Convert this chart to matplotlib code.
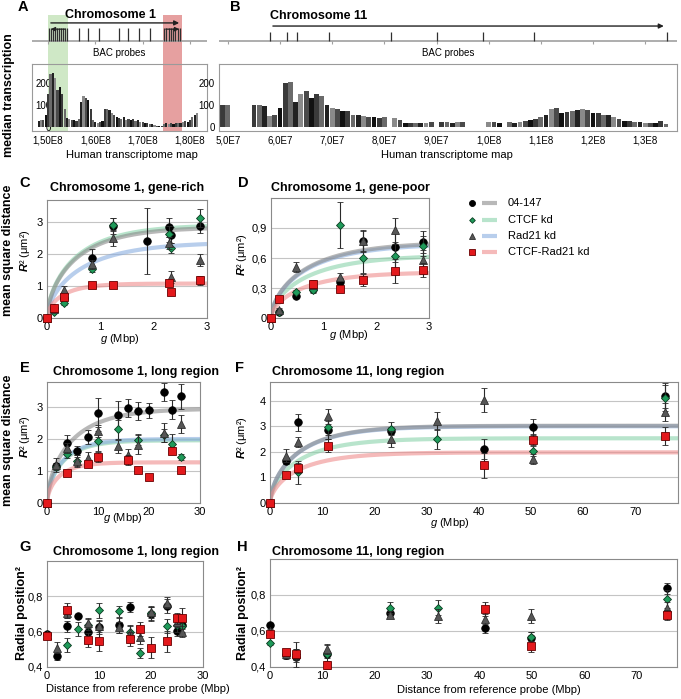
import numpy as np
import matplotlib.pyplot as plt
from matplotlib.ticker import FuncFormatter

plt.rcParams['font.family'] = ['Liberation Sans', 'DejaVu Sans']
plt.rcParams['mathtext.fontset'] = 'custom'
plt.rcParams['mathtext.rm'] = 'Liberation Sans'
plt.rcParams['mathtext.it'] = 'Liberation Sans:italic'
plt.rcParams['mathtext.bf'] = 'Liberation Sans:bold'
plt.rcParams['mathtext.bfit'] = 'Liberation Sans:bold:italic'

# ---------------- data ----------------
# transcriptome maps (median transcription, bins in Mbp)
chr1_start, chr1_step = 146.5, 0.5
chr1_tx = [0, 0, 0, 25, 30, 30, 55, 150, 240, 245, 220, 165, 180, 150, 80, 40, 35, 30,
           30, 25, 35, 110, 140, 130, 120, 80, 30, 20, 15, 20, 25, 80, 80, 75, 60, 55,
           45, 40, 35, 45, 30, 35, 30, 35, 25, 30, 20, 20, 15, 15, 10, 10, 8, 5, 5, 5,
           12, 15, 12, 15, 12, 15, 15, 15, 20, 25, 20, 30, 45, 55, 60, 0, 0, 0]
chr11_start, chr11_step = 48, 1.0
chr11_tx = [0, 100, 100, 0, 0, 0, 0, 100, 100, 95, 50, 55, 85, 200, 205, 110, 150, 160,
            130, 150, 140, 100, 85, 80, 70, 70, 55, 55, 50, 45, 45, 40, 45, 0, 40, 30,
            18, 15, 15, 18, 18, 20, 0, 20, 20, 18, 20, 20, 0, 0, 0, 0, 22, 20, 15, 0,
            20, 15, 20, 25, 30, 35, 45, 55, 80, 85, 60, 65, 70, 75, 80, 75, 60, 60, 55,
            55, 45, 35, 25, 25, 20, 20, 15, 15, 15, 25, 10, 0]

# BAC probe positions (Mbp)
chr1_probes = [150.2, 150.6, 151.0, 151.4, 151.8, 152.3, 152.8, 153.2, 153.6, 154.0,
               156.6, 158.5, 160.8, 165.0, 167.0, 169.3, 171.6,
               174.5, 175.0, 175.5, 176.0, 176.4, 176.9, 177.4, 177.9]
chr11_probes = [58.1, 61.4, 63.3, 69.3, 81.2, 90.0, 99.0, 108.6, 134.1]
gene_rich = (150.0, 154.2)
gene_poor = (174.3, 178.3)

conditions = ['04-147', 'CTCF kd', 'Rad21 kd', 'CTCF-Rad21 kd']

# C: chromosome 1 gene-rich, R^2 vs g
C_x = [[0, 0.13, 0.31, 0.84, 1.23, 1.87, 2.29, 2.32, 2.86],
       [0, 0.13, 0.31, 0.84, 1.23, 2.29, 2.32, 2.86],
       [0, 0.13, 0.31, 0.84, 1.23, 2.29, 2.32, 2.86],
       [0, 0.13, 0.31, 0.84, 1.23, 2.29, 2.32, 2.86]]
C_y = [[0, 0.3, 0.62, 1.87, 2.88, 2.42, 2.85, 2.6, 2.9],
       [0, 0.2, 0.48, 1.53, 2.93, 2.63, 2.2, 3.14],
       [0, 0.28, 0.88, 1.68, 2.52, 2.35, 1.28, 1.82],
       [0, 0.32, 0.65, 1.02, 1.03, 1.1, 0.8, 1.18]]
C_err = [[0, 0.05, 0.08, 0.3, 0.25, 1.03, 0.3, 0.25, 0.25],
         [0, 0.05, 0.08, 0.1, 0.2, 0.25, 0.15, 0.28],
         [0, 0.05, 0.12, 0.15, 0.25, 0.2, 0.18, 0.2],
         [0, 0.05, 0.08, 0.05, 0.05, 0.1, 0.05, 0.15]]
C_plateau = [2.85, 2.92, 2.38, 1.08]
C_tau = [0.8, 0.8, 0.95, 0.42]

# D: chromosome 1 gene-poor
D_x = [[0, 0.16, 0.47, 0.80, 1.31, 1.75, 2.35, 2.88],
       [0, 0.16, 0.47, 0.80, 1.31, 1.75, 2.35, 2.88],
       [0, 0.16, 0.47, 0.80, 1.31, 1.75, 2.35, 2.88],
       [0, 0.16, 0.80, 1.31, 1.75, 2.35, 2.88]]
D_y = [[0, 0.065, 0.22, 0.29, 0.36, 0.77, 0.71, 0.755],
       [0, 0.06, 0.26, 0.28, 0.93, 0.60, 0.62, 0.72],
       [0, 0.08, 0.51, 0.33, 0.41, 0.77, 0.88, 0.58],
       [0, 0.19, 0.34, 0.29, 0.38, 0.47, 0.48]]
D_err = [[0, 0.02, 0.02, 0.03, 0.04, 0.11, 0.15, 0.11],
         [0, 0.02, 0.02, 0.03, 0.23, 0.15, 0.12, 0.1],
         [0, 0.02, 0.05, 0.03, 0.04, 0.1, 0.12, 0.1],
         [0, 0.02, 0.04, 0.03, 0.06, 0.12, 0.07]]
D_plateau = [0.76, 0.63, 0.745, 0.46]
D_tau = [1.0, 1.0, 1.0, 0.9]

# E: chromosome 1 long region
E_x = [[0, 1.76, 3.85, 5.95, 8.1, 10.06, 14.0, 15.95, 17.9, 20.06, 23.0, 24.5, 26.3],
       [0, 1.76, 3.85, 5.95, 10.06, 14.0, 17.9, 23.0, 24.5, 26.3],
       [0, 1.76, 3.85, 5.95, 8.1, 10.06, 14.0, 15.95, 17.9, 23.0, 26.3],
       [0, 3.85, 8.1, 10.06, 15.95, 17.9, 20.06, 24.5, 26.3]]
E_y = [[0, 1.15, 1.89, 1.64, 2.06, 2.82, 2.74, 2.97, 2.87, 2.89, 3.48, 2.92, 3.33],
       [0, 1.12, 1.52, 1.31, 1.94, 2.3, 1.98, 2.12, 1.84, 1.43],
       [0, 1.2, 1.72, 1.3, 1.4, 2.25, 1.77, 1.5, 1.82, 2.2, 2.47],
       [0, 0.93, 1.21, 1.44, 1.35, 1.04, 0.8, 1.64, 1.03]]
E_err = [[0, 0.1, 0.22, 0.15, 0.22, 0.45, 0.45, 0.27, 0.28, 0.23, 0.28, 0.3, 0.4],
         [0, 0.1, 0.12, 0.2, 0.3, 0.3, 0.18, 0.2, 0.3, 0.1],
         [0, 0.22, 0.15, 0.15, 0.2, 0.2, 0.2, 0.2, 0.3, 0.3, 0.28],
         [0, 0.08, 0.1, 0.15, 0.15, 0.1, 0.05, 0.12, 0.1]]
E_plateau = [2.95, 1.96, 2.0, 1.27]
E_tau = [7.0, 4.5, 4.5, 3.5]

# F: chromosome 11 long region
F_x = [[0, 3.07, 5.44, 11.2, 23.2, 41, 50.5, 75.8],
       [0, 5.44, 11.2, 23.2, 32, 50.5, 75.8],
       [0, 3.07, 5.44, 11.2, 23.2, 32, 41, 50.5, 75.8],
       [0, 3.07, 5.44, 11.2, 41, 50.5, 75.8]]
F_y = [[0, 1.63, 3.15, 2.87, 2.83, 2.11, 2.97, 4.2],
       [0, 1.2, 2.97, 2.9, 2.51, 2.02, 4.1],
       [0, 1.85, 2.38, 3.39, 2.5, 3.19, 4.04, 1.72, 3.56],
       [0, 1.11, 1.36, 2.24, 1.47, 2.48, 2.62]]
F_err = [[0, 0.1, 0.32, 0.35, 0.15, 0.38, 0.32, 0.5],
         [0, 0.45, 0.3, 0.25, 0.4, 0.2, 0.5],
         [0, 0.25, 0.2, 0.3, 0.3, 0.35, 0.47, 0.18, 0.35],
         [0, 0.08, 0.2, 0.25, 0.5, 0.2, 0.35]]
F_plateau = [3.02, 2.53, 3.0, 1.98]
F_tau = [8.0, 8.0, 8.0, 8.0]

# G: chromosome 1 radial position
G_x = [[0, 1.9, 3.9, 5.9, 7.9, 10, 13.9, 15.9, 20, 23, 25, 26],
       [0, 3.9, 5.9, 7.9, 10, 13.9, 15.9, 17.9, 20, 23, 25, 26],
       [0, 1.9, 3.9, 7.9, 10, 13.9, 15.9, 17.9, 20, 23, 25, 26],
       [0, 3.9, 7.9, 10, 15.9, 17.9, 20, 23, 25, 26]]
G_y = [[0.585, 0.46, 0.63, 0.69, 0.6, 0.625, 0.635, 0.74, 0.70, 0.745, 0.605, 0.64],
       [0.58, 0.525, 0.615, 0.64, 0.72, 0.715, 0.6, 0.48, 0.705, 0.63, 0.64, 0.63],
       [0.58, 0.51, 0.705, 0.65, 0.63, 0.625, 0.59, 0.57, 0.71, 0.765, 0.655, 0.6],
       [0.575, 0.72, 0.555, 0.55, 0.56, 0.615, 0.51, 0.545, 0.675, 0.675]]
G_err = [[0.01, 0.02, 0.03, 0.01, 0.03, 0.04, 0.04, 0.03, 0.04, 0.04, 0.03, 0.04],
         [0.01, 0.04, 0.04, 0.03, 0.04, 0.03, 0.04, 0.03, 0.04, 0.04, 0.04, 0.04],
         [0.01, 0.03, 0.03, 0.03, 0.03, 0.03, 0.04, 0.04, 0.03, 0.03, 0.03, 0.03],
         [0.01, 0.04, 0.04, 0.06, 0.04, 0.04, 0.06, 0.06, 0.03, 0.06]]

# H: chromosome 11 radial position
H_x = [[0, 3.06, 4.97, 10.9, 23, 41, 49.9, 75.8],
       [0, 3.06, 4.97, 10.9, 23, 32, 49.9, 75.8],
       [0, 3.06, 4.97, 10.9, 23, 32, 41, 49.9, 75.8],
       [0, 3.06, 4.97, 10.9, 41, 49.9, 75.8]]
H_y = [[0.633, 0.467, 0.457, 0.47, 0.70, 0.618, 0.563, 0.837],
       [0.531, 0.475, 0.47, 0.47, 0.73, 0.73, 0.565, 0.776],
       [0.6, 0.47, 0.47, 0.5, 0.69, 0.685, 0.667, 0.685, 0.73],
       [0.583, 0.481, 0.472, 0.411, 0.722, 0.515, 0.689]]
H_err = [[0.01, 0.02, 0.03, 0.02, 0.02, 0.03, 0.03, 0.03],
         [0.01, 0.02, 0.07, 0.05, 0.03, 0.04, 0.03, 0.05],
         [0.01, 0.02, 0.03, 0.03, 0.02, 0.04, 0.03, 0.04, 0.03],
         [0.01, 0.02, 0.03, 0.02, 0.04, 0.03, 0.03]]

# ---------------- styles ----------------
markers = [dict(marker='o', ms=5.4, mfc='black', mec='black', mew=0.6),
           dict(marker='D', ms=3.6, mfc='#1f9a5a', mec='#0b3b20', mew=0.6),
           dict(marker='^', ms=5.2, mfc='#565656', mec='#303030', mew=0.6),
           dict(marker='s', ms=5.2, mfc='#e3191c', mec='#6a0000', mew=0.6)]
line_colors = ['#8a8a8a', '#8ad3aa', '#8aaee0', '#ef8c8c']
draw_order = [0, 2, 1, 3]

W, H = 681, 699
fig = plt.figure(figsize=(W / 100, H / 100), dpi=100)


def box(x0, y0, x1, y1):
    # axes placed by pixel corners, top-left origin
    return fig.add_axes([x0 / W, 1 - y1 / H, (x1 - x0) / W, (y1 - y0) / H])


def ftxt(x, y, s, **kw):
    return fig.text(x / W, 1 - y / H, s, **kw)


comma = FuncFormatter(lambda v, p: ('%g' % v).replace('.', ','))


def style(ax):
    for s in ax.spines.values():
        s.set_color('#8a8a8a')
        s.set_linewidth(0.8)
    ax.tick_params(length=0, labelsize=8, pad=3)
    ax.yaxis.grid(True, color='#c4c4c4', lw=0.8)
    ax.set_axisbelow(True)
    ax.yaxis.set_major_formatter(comma)


def points(ax, xs, ys, errs):
    for i in draw_order:
        ax.errorbar(xs[i], ys[i], yerr=errs[i], linestyle='none', ecolor='#2a2a2a',
                    elinewidth=0.8, capsize=2, capthick=0.8, clip_on=False,
                    zorder=4 + i, **markers[i])


def curves(ax, plateau, tau, xmax):
    g = np.linspace(0, xmax, 400)
    for i in [1, 2, 0, 3]:
        ax.plot(g, plateau[i] * (1 - np.exp(-g / tau[i])) ** 0.6, color=line_colors[i],
                lw=3, alpha=0.6, solid_capstyle='butt', zorder=2)


shades = ['#111111', '#3a3a3a', '#6a6a6a', '#222222', '#8a8a8a', '#4a4a4a']


def transcription(ax_p, ax_t, start, step, tx, xlim, ticks, ticklabels, probes,
                  p_hi, ypad):
    pos = start + step * np.arange(len(tx))
    cols = [shades[i % len(shades)] for i in range(len(tx))]
    ax_t.bar(pos, tx, width=step * 0.92, color=cols, zorder=2, lw=0)
    ax_t.set_xlim(*xlim)
    ax_t.set_ylim(-20, 285)
    ax_t.set_xticks(ticks)
    ax_t.set_xticklabels(ticklabels)
    ax_t.set_yticks([0, 100, 200])
    ax_t.tick_params(length=0, labelsize=7, pad=3)
    ax_t.tick_params(axis='y', pad=ypad)
    for s in ax_t.spines.values():
        s.set_color('#9a9a9a')
        s.set_linewidth(0.8)
    # probe track above
    ax_p.set_xlim(*xlim)
    ax_p.set_ylim(0, 1)
    ax_p.axis('off')
    ax_p.plot(xlim, [0.44, 0.44], color='#a0a0a0', lw=1.2)
    ax_p.vlines(ticks, 0.38, 0.44, color='#a0a0a0', lw=0.8)
    ax_p.vlines(probes, 0.44, p_hi, color='#303030', lw=0.9)
    ax_p.text(np.mean(xlim), 0.21, 'BAC probes', ha='center', va='center', size=7)


# ---------------- A ----------------
axA_p = box(32, 12, 207, 64)
axA = box(32, 64, 207, 131)
transcription(axA_p, axA, chr1_start, chr1_step, chr1_tx, (146.6, 183.6),
              [150, 160, 170, 180], ['1,50E8', '1,60E8', '1,70E8', '1,80E8'],
              chr1_probes, 0.69, -14)
for (a, b), c in [(gene_rich, '#cfe8c6'), (gene_poor, '#e6a0a0')]:
    axA.axvspan(a, b, color=c, zorder=0, lw=0)
    axA_p.axvspan(a, b, ymin=0, ymax=0.94, color=c, zorder=0, lw=0)
axA_p.annotate('', xy=(gene_poor[1], 0.79), xytext=(gene_rich[0], 0.79),
               arrowprops=dict(arrowstyle='-|>', color='#222222', lw=1, mutation_scale=7))
axA_p.annotate('', xy=(gene_rich[0], 0.67), xytext=(gene_rich[1], 0.67),
               arrowprops=dict(arrowstyle='-|>', color='#222222', lw=0.9, mutation_scale=6))
axA_p.annotate('', xy=(gene_poor[1], 0.67), xytext=(gene_poor[0], 0.67),
               arrowprops=dict(arrowstyle='-|>', color='#222222', lw=0.9, mutation_scale=6))
axA_p.text(np.mean([gene_rich[0], gene_poor[1]]) - 1.0, 0.94, 'Chromosome 1',
           ha='center', va='center', size=9, weight='bold')

# ---------------- B ----------------
axB_p = box(219, 12, 677, 64)
axB = box(219, 64, 677, 131)
transcription(axB_p, axB, chr11_start, chr11_step, chr11_tx, (48.3, 136.1),
              [50, 60, 70, 80, 90, 100, 110, 120, 130],
              ['5,0E7', '6,0E7', '7,0E7', '8,0E7', '9,0E7', '1,0E8', '1,1E8', '1,2E8', '1,3E8'],
              chr11_probes, 0.62, 3)
axB_p.annotate('', xy=(chr11_probes[-1], 0.73), xytext=(chr11_probes[0], 0.73),
               arrowprops=dict(arrowstyle='-|>', color='#222222', lw=1, mutation_scale=7))
axB_p.text(chr11_probes[0], 0.92, 'Chromosome 11', ha='left', va='center', size=9,
           weight='bold')

ftxt(132, 155, 'Human transcriptome map', ha='center', va='center', size=8)
ftxt(447, 155, 'Human transcriptome map', ha='center', va='center', size=8)
ftxt(9, 95, 'median transcription', rotation=90, ha='center', va='center', size=9,
     weight='bold')

# ---------------- C ----------------
axC = box(47, 200, 207, 318)
style(axC)
curves(axC, C_plateau, C_tau, 3)
points(axC, C_x, C_y, C_err)
axC.set_xlim(0, 3)
axC.set_ylim(0, 3.7)
axC.set_xticks([0, 1, 2, 3])
axC.set_yticks([0, 1, 2, 3])

# ---------------- D ----------------
axD = box(271, 198, 429, 318)
style(axD)
curves(axD, D_plateau, D_tau, 3)
points(axD, D_x, D_y, D_err)
axD.set_xlim(0, 3)
axD.set_ylim(0, 1.2)
axD.set_xticks([0, 1, 2, 3])
axD.set_yticks([0, 0.3, 0.6, 0.9])

# ---------------- E ----------------
axE = box(47, 382, 200, 503)
style(axE)
curves(axE, E_plateau, E_tau, 30)
points(axE, E_x, E_y, E_err)
axE.set_xlim(0, 30)
axE.set_ylim(0, 3.78)
axE.set_xticks([0, 10, 20, 30])
axE.set_yticks([0, 1, 2, 3])

# ---------------- F ----------------
axF = box(270, 382, 678, 503)
style(axF)
curves(axF, F_plateau, F_tau, 78.2)
points(axF, F_x, F_y, F_err)
axF.set_xlim(0, 78.2)
axF.set_ylim(0, 4.73)
axF.set_xticks([0, 10, 20, 30, 40, 50, 60, 70])
axF.set_yticks([0, 1, 2, 3, 4])

# ---------------- G ----------------
axG = box(47, 561, 203, 667)
style(axG)
points(axG, G_x, G_y, G_err)
axG.set_xlim(0, 30)
axG.set_ylim(0.4, 1.0)
axG.set_xticks([0, 10, 20, 30])
axG.set_yticks([0.4, 0.6, 0.8])

# ---------------- H ----------------
axH = box(270, 559, 677, 667)
style(axH)
points(axH, H_x, H_y, H_err)
axH.set_xlim(0, 77.7)
axH.set_ylim(0.4, 1.0)
axH.set_xticks([0, 10, 20, 30, 40, 50, 60, 70])
axH.set_yticks([0.4, 0.6, 0.8])

# ---------------- labels ----------------
for s, x, y in [('A', 23, 7), ('B', 235, 7), ('C', 25, 183), ('D', 243, 183),
                ('E', 25, 368), ('F', 240, 368), ('G', 25, 547), ('H', 242, 547)]:
    ftxt(x, y, s, ha='center', va='center', size=10.5, weight='bold')

ftxt(127, 188, 'Chromosome 1, gene-rich', ha='center', va='center', size=9, weight='bold')
ftxt(350, 188, 'Chromosome 1, gene-poor', ha='center', va='center', size=9, weight='bold')
ftxt(136, 372, 'Chromosome 1, long region', ha='center', va='center', size=9, weight='bold')
ftxt(272, 372, 'Chromosome 11, long region', ha='left', va='center', size=9, weight='bold')
ftxt(136, 552, 'Chromosome 1, long region', ha='center', va='center', size=9, weight='bold')
ftxt(272, 552, 'Chromosome 11, long region', ha='left', va='center', size=9, weight='bold')

r2 = r'$\mathbfit{R}$² (μm²)'
for x, y in [(25, 251), (242, 255), (25, 437), (242, 438)]:
    ftxt(x, y, r2, rotation=90, ha='center', va='center', size=8)
for y in [250, 440]:
    ftxt(8, y, 'mean square distance', rotation=90, ha='center', va='center', size=9,
         weight='bold')
for x in [22, 243]:
    ftxt(x, 613, 'Radial position²', rotation=90, ha='center', va='center', size=9,
         weight='bold')

g_lab = r'$\it{g}$ (Mbp)'
for x, y in [(100, 339), (329, 335), (103, 518), (430, 523)]:
    ftxt(x, y, g_lab, ha='left', va='center', size=8)
ftxt(138, 689, 'Distance from reference probe (Mbp)', ha='center', va='center', size=8)
ftxt(489, 690, 'Distance from reference probe (Mbp)', ha='center', va='center', size=8)

# ---------------- legend ----------------
axL = box(440, 190, 680, 265)
axL.axis('off')
axL.set_xlim(440, 680)
axL.set_ylim(265, 190)
for i, y in enumerate([203, 220, 236, 252]):
    m = dict(markers[i])
    m['ms'] = m['ms'] * 0.8
    axL.plot([472], [y], linestyle='none', **m)
    axL.plot([482, 497], [y, y], color=line_colors[i], lw=3, alpha=0.6,
             solid_capstyle='butt')
    axL.text(508, y, conditions[i], ha='left', va='center', size=8)

fig.savefig('out.png', dpi=100)
